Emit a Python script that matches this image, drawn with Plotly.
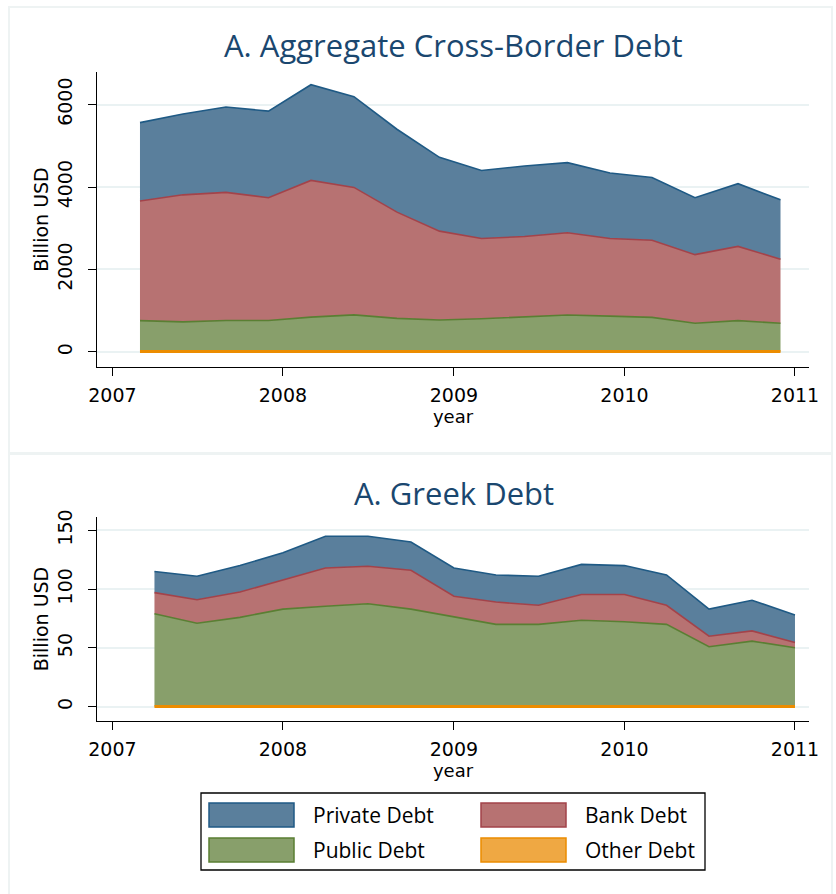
import plotly.graph_objects as go

# ---------------- data ----------------
series_names = ["Private Debt", "Bank Debt", "Public Debt", "Other Debt"]

agg_dates = ["2007-03-01", "2007-06-01", "2007-09-01", "2007-12-01",
             "2008-03-01", "2008-06-01", "2008-09-01", "2008-12-01",
             "2009-03-01", "2009-06-01", "2009-09-01", "2009-12-01",
             "2010-03-01", "2010-06-01", "2010-09-01", "2010-12-01"]
agg_private = [1900, 1960, 2070, 2100, 2320, 2200, 2010, 1790,
               1650, 1710, 1700, 1590, 1520, 1380, 1520, 1440]
agg_bank = [2900, 3080, 3105, 2975, 3315, 3090, 2575, 2155,
            1945, 1955, 1995, 1880, 1870, 1665, 1800, 1555]
agg_public = [748, 719, 753, 753, 832, 887, 803, 764,
              795, 835, 884, 859, 830, 686, 751, 686]
agg_other = [12, 11, 12, 12, 13, 13, 12, 11,
             10, 10, 11, 11, 10, 9, 9, 9]

greek_dates = ["2007-04-01", "2007-07-01", "2007-10-01", "2008-01-01",
               "2008-04-01", "2008-07-01", "2008-10-01", "2009-01-01",
               "2009-04-01", "2009-07-01", "2009-10-01", "2010-01-01",
               "2010-04-01", "2010-07-01", "2010-10-01", "2011-01-01"]
greek_private = [18, 20, 22.5, 23, 27, 25.5, 24, 24,
                 23, 24.7, 25.6, 24.6, 25.7, 23, 26, 23.3]
greek_bank = [18, 20, 21.5, 25, 32.5, 32, 33, 17.6,
              19, 16.3, 21.8, 23.2, 16.3, 9, 8.7, 4.6]
greek_public = [78.7, 70.7, 75.7, 82.7, 85.2, 87.2, 82.7, 76.1,
                69.7, 69.7, 73.3, 71.9, 69.7, 50.7, 55.5, 49.8]
greek_other = [0.3, 0.3, 0.3, 0.3, 0.3, 0.3, 0.3, 0.3,
               0.3, 0.3, 0.3, 0.3, 0.3, 0.3, 0.3, 0.3]

x_ticks = ["2007-01-01", "2008-01-01", "2009-01-01", "2010-01-01", "2011-01-01"]
x_tick_text = ["2007", "2008", "2009", "2010", "2011"]
agg_y_ticks = [0, 2000, 4000, 6000]
greek_y_ticks = [0, 50, 100, 150]

titles = ["A. Aggregate Cross-Border Debt", "A. Greek Debt"]

# ---------------- styling ----------------
W, H = 836, 894
fill_colors = {"Private Debt": "#5a7f9c", "Bank Debt": "#b77272",
               "Public Debt": "#889f6b", "Other Debt": "#efa843"}
line_colors = {"Private Debt": "#1f5a85", "Bank Debt": "#a3434a",
               "Public Debt": "#5a7f33", "Other Debt": "#ec8c00"}
title_color = "#1a476f"
grid_color = "#eaf2f3"
FONT = "Open Sans"
TICKFONT = "DejaVu Sans"


def px_x(p):
    return p / W


def px_y(p):
    return 1 - p / H


fig = go.Figure()

panels = [
    (agg_dates, {"Private Debt": agg_private, "Bank Debt": agg_bank,
                 "Public Debt": agg_public, "Other Debt": agg_other}, "x", "y"),
    (greek_dates, {"Private Debt": greek_private, "Bank Debt": greek_bank,
                   "Public Debt": greek_public, "Other Debt": greek_other}, "x2", "y2"),
]

for dates, vals, xa, ya in panels:
    for name in ["Other Debt", "Public Debt", "Bank Debt", "Private Debt"]:
        fig.add_trace(go.Scatter(
            x=dates, y=vals[name], name=name, mode="lines",
            stackgroup="s" + xa, fillcolor=fill_colors[name],
            line=dict(color=line_colors[name],
                      width=3 if name == "Other Debt" else 1.6),
            xaxis=xa, yaxis=ya, showlegend=False))

xdom = [px_x(97), px_x(809)]
xaxis_common = dict(
    type="date", range=["2006-11-29", "2011-01-31"],
    tickmode="array", tickvals=x_ticks, ticktext=x_tick_text,
    showline=True, linecolor="black", linewidth=1.3,
    ticks="outside", ticklen=8, tickcolor="black", tickwidth=1.3,
    showgrid=False, zeroline=False, automargin=False,
    tickfont=dict(family=TICKFONT, size=19, color="black"),
    title=dict(text="year", font=dict(family=TICKFONT, size=18, color="black"),
               standoff=0),
    ticklabelstandoff=3,
)
yaxis_common = dict(
    showline=True, linecolor="black", linewidth=1.3,
    ticks="outside", ticklen=8, tickcolor="black", tickwidth=1.3,
    showgrid=True, gridcolor=grid_color, gridwidth=1.5, zeroline=False,
    tickangle=-90, automargin=False,
    tickfont=dict(family=TICKFONT, size=19, color="black"),
    title=dict(text="Billion USD", font=dict(family=TICKFONT, size=19, color="black"),
               standoff=0),
    ticklabelstandoff=8,
)

fig.update_layout(
    width=W, height=H, margin=dict(l=0, r=0, t=0, b=0, pad=0, autoexpand=False),
    paper_bgcolor="white", plot_bgcolor="white", showlegend=False,
    xaxis=dict(domain=xdom, anchor="y", **xaxis_common),
    yaxis=dict(domain=[px_y(367), px_y(72)], anchor="x",
               range=[-364, 6788], tickvals=agg_y_ticks, **yaxis_common),
    xaxis2=dict(domain=xdom, anchor="y2", **xaxis_common),
    yaxis2=dict(domain=[px_y(721), px_y(517)], anchor="x2",
                range=[-12.1, 161.3], tickvals=greek_y_ticks, **yaxis_common),
)

annotations = [
    dict(text=titles[0], x=px_x(453), y=px_y(45), xref="paper", yref="paper",
         showarrow=False, xanchor="center", yanchor="middle",
         font=dict(family=FONT, size=31, color=title_color)),
    dict(text=titles[1], x=px_x(454), y=px_y(493), xref="paper", yref="paper",
         showarrow=False, xanchor="center", yanchor="middle",
         font=dict(family=FONT, size=31, color=title_color)),
]

shapes = [
    # panel frames
    dict(type="rect", xref="paper", yref="paper", x0=px_x(9), x1=px_x(832),
         y0=px_y(453), y1=px_y(7), line=dict(color="#eef3f3", width=2)),
    dict(type="rect", xref="paper", yref="paper", x0=px_x(9), x1=px_x(832),
         y0=px_y(900), y1=px_y(454), line=dict(color="#eef3f3", width=2)),
    # legend box
    dict(type="rect", xref="paper", yref="paper", x0=px_x(201), x1=px_x(705),
         y0=px_y(870), y1=px_y(793), line=dict(color="black", width=1.3),
         fillcolor="white"),
]

legend_pos = {"Private Debt": (209, 803), "Bank Debt": (481, 803),
              "Public Debt": (209, 838), "Other Debt": (481, 838)}
for name in series_names:
    lx, ly = legend_pos[name]
    shapes.append(dict(type="rect", xref="paper", yref="paper",
                       x0=px_x(lx), x1=px_x(lx + 85), y0=px_y(ly + 24), y1=px_y(ly),
                       fillcolor=fill_colors[name],
                       line=dict(color=line_colors[name], width=1.5)))
    annotations.append(dict(text=name, x=px_x(lx + 102), y=px_y(ly + 12),
                            xref="paper", yref="paper", showarrow=False,
                            xanchor="left", yanchor="middle",
                            font=dict(family=FONT, size=21, color="black")))

fig.update_layout(annotations=annotations, shapes=shapes)

fig.write_html("out.html", config={"displayModeBar": False},
               post_script="document.body.style.margin='0px';"
                           "document.body.style.overflow='hidden';")
